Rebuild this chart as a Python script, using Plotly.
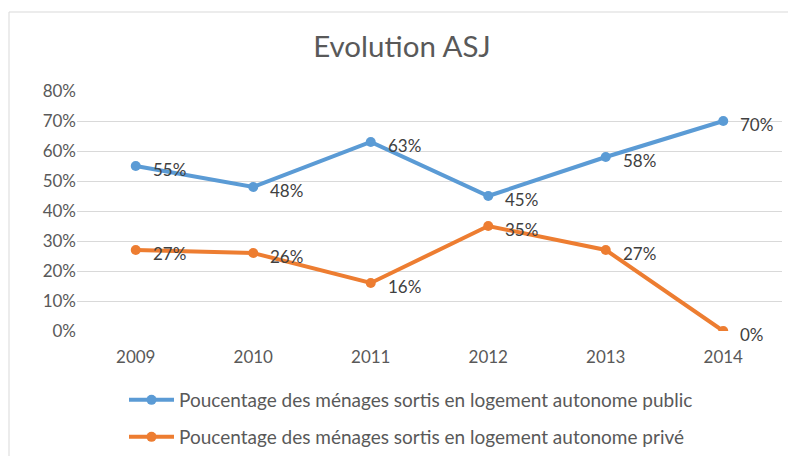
import plotly.graph_objects as go

years = ["2009", "2010", "2011", "2012", "2013", "2014"]
public = [0.55, 0.48, 0.63, 0.45, 0.58, 0.70]
prive = [0.27, 0.26, 0.16, 0.35, 0.27, 0.00]
name_public = "Poucentage des ménages sortis en logement autonome public"
name_prive = "Poucentage des ménages sortis en logement autonome privé"
yticks = [0, 0.1, 0.2, 0.3, 0.4, 0.5, 0.6, 0.7, 0.8]

BLUE = "#5B9BD5"
ORANGE = "#ED7D31"
FONT = "Lato, Carlito, Calibri, sans-serif"

# page has an 8px body margin, so the figure is 788x448 and positions are shifted by 8px
W, H = 788, 448

fig = go.Figure()
fig.add_trace(go.Scatter(x=years, y=public, name=name_public, mode="lines+markers",
                         line=dict(color=BLUE, width=4), marker=dict(size=10, color=BLUE),
                         legend="legend", showlegend=True))
fig.add_trace(go.Scatter(x=years, y=prive, name=name_prive, mode="lines+markers",
                         line=dict(color=ORANGE, width=4), marker=dict(size=10, color=ORANGE),
                         legend="legend2", showlegend=True))

annotations = []
for series in (public, prive):
    for i, v in enumerate(series):
        annotations.append(dict(x=i, y=v, xref="x", yref="y", text=f"{round(v*100)}%",
                                showarrow=False, xanchor="left", yanchor="middle",
                                xshift=15, yshift=-3,
                                font=dict(family=FONT, size=17, color="#404040")))

leg_common = dict(xref="container", yref="container", xanchor="left", yanchor="middle",
                  font=dict(family=FONT, size=19, color="#595959"), bgcolor="rgba(0,0,0,0)",
                  itemwidth=45)

fig.update_layout(
    width=W, height=H,
    showlegend=True,
    margin=dict(l=69, r=14, t=83, b=125, autoexpand=False),
    paper_bgcolor="white", plot_bgcolor="white",
    font=dict(family=FONT, color="#595959"),
    title=dict(text="Evolution ASJ", x=0.5, xanchor="center", y=1 - 39/H, yanchor="middle",
               font=dict(family=FONT, size=29.5, color="#595959")),
    xaxis=dict(type="category", range=[-0.5, 5.5], showgrid=False, showline=False,
               ticks="", tickfont=dict(size=17, color="#595959"), ticklabelstandoff=14),
    yaxis=dict(range=[0, 0.8], tickvals=yticks, tickformat=".0%",
               ticksuffix="\u00a0\u00a0\u00a0\u00a0",
               showgrid=True, gridcolor="#D9D9D9", gridwidth=1, zeroline=False, showline=False,
               ticks="", tickfont=dict(size=17, color="#595959")),
    legend=dict(x=116/W, y=1 - 392/H, **leg_common),
    legend2=dict(x=116/W, y=1 - 429/H, **leg_common),
    annotations=annotations,
    shapes=[dict(type="rect", xref="paper", yref="paper",
                 x0=(1-69)/705, x1=(800-69)/705, y0=(323-470)/240, y1=(323-4)/240,
                 line=dict(color="#D9D9D9", width=1), fillcolor="rgba(0,0,0,0)", layer="below")],
)

fig.write_html("out.html")
